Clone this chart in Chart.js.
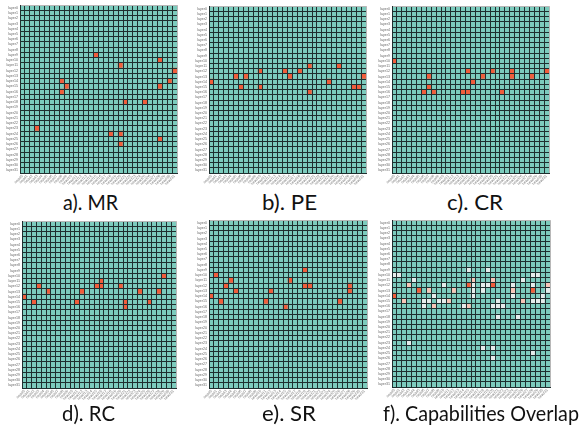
<!DOCTYPE html>
<html><head><meta charset="utf-8">
<script src="https://cdn.jsdelivr.net/npm/chart.js@4"></script>
<style>
html,body{margin:0;padding:0;background:#fff;width:581px;height:432px;overflow:hidden;position:relative;}
canvas{position:absolute;}
.title{position:absolute;font-family:Lato,'Open Sans',sans-serif;font-size:21px;line-height:21px;color:#111;white-space:nowrap;transform-origin:0 0;}
</style></head><body>
<canvas id="cA"></canvas><canvas id="cB"></canvas><canvas id="cC"></canvas>
<canvas id="cD"></canvas><canvas id="cE"></canvas><canvas id="cF"></canvas>
<div class="title" id="tA">a). MR</div>
<div class="title" id="tB">b). PE</div>
<div class="title" id="tC">c). CR</div>
<div class="title" id="tD">d). RC</div>
<div class="title" id="tE">e). SR</div>
<div class="title" id="tF">f). Capabilities Overlap</div>
<script>
// ---- categories / tick labels ----
const layerLabels = Array.from({length:32},(_,i)=>'layer'+i);
const headLabels = Array.from({length:32},(_,i)=>'head'+i);

// ---- series: highlighted cells [layer, head] ----
const mrCells = [[9,15],[10,28],[11,20],[12,31],[14,8],[14,30],[15,9],[15,28],[16,8],[18,21],[18,25],[23,3],[24,18],[24,20],[25,28],[26,20]];
const peCells = [[11,20],[11,26],[12,10],[12,15],[12,18],[13,5],[13,7],[13,16],[13,31],[14,0],[14,24],[15,6],[15,10],[15,29],[15,30],[16,20]];
const crCells = [[10,0],[12,15],[12,20],[12,24],[12,31],[13,7],[13,18],[13,24],[13,28],[14,16],[15,7],[16,6],[16,8],[16,14],[16,15],[16,22]];
const rcCells = [[10,29],[11,16],[12,3],[12,15],[12,16],[12,20],[13,5],[13,12],[13,24],[13,28],[14,0],[15,2],[15,11],[15,21],[15,26],[16,21]];
const srCells = [[9,19],[10,1],[11,4],[11,16],[12,3],[12,19],[12,20],[12,28],[13,5],[13,12],[13,28],[14,0],[15,2],[15,11],[15,26],[16,15]];
// overlap: [layer, head, count]
const overlapCells = [
 [9,15,1],[9,19,1],
 [10,0,1],[10,1,1],[10,28,1],[10,29,1],
 [11,4,1],[11,16,2],[11,20,2],[11,26,1],
 [12,3,2],[12,10,1],[12,15,3],[12,16,1],[12,18,1],[12,19,1],[12,20,3],[12,24,1],[12,28,1],[12,31,2],
 [13,5,3],[13,7,2],[13,12,2],[13,16,1],[13,18,1],[13,24,2],[13,28,3],[13,31,1],
 [14,0,3],[14,8,1],[14,16,1],[14,24,1],[14,30,1],
 [15,2,2],[15,6,1],[15,7,1],[15,9,1],[15,10,1],[15,11,2],[15,21,1],[15,26,2],[15,28,1],[15,29,1],[15,30,1],
 [16,6,1],[16,8,2],[16,14,1],[16,15,2],[16,20,1],[16,21,1],[16,22,1],
 [18,21,1],[18,25,1],[23,3,1],[24,18,1],[24,20,1],[25,28,1],[26,20,1]
];

const TEAL='#7ccbbd', LINE='#1f2f2f', FRAME='#b8b8b8';
const singlePalette=[TEAL,'#f15d3b'];
const overlapPalette=[TEAL,'#e6eceb','#f8c5b7','#f15d3b'];

function matrix(cells){
  const m=Array.from({length:layerLabels.length},()=>new Array(headLabels.length).fill(0));
  cells.forEach(c=>{m[c[0]][c[1]]=c.length>2?c[2]:1;});
  return m;
}

function makePanel(id,cells,palette,L,T,W,H){
  const cv=document.getElementById(id);
  const cw=W+23, ch=H+3+16;
  cv.width=cw; cv.height=ch;
  cv.style.left=(L-20)+'px'; cv.style.top=(T-3)+'px';
  cv.style.width=cw+'px'; cv.style.height=ch+'px';
  const m=matrix(cells);
  const n=layerLabels.length;
  const datasets=[];
  for(let k=0;k<n;k++){
    const r=n-1-k;
    datasets.push({
      label:layerLabels[r],
      data:headLabels.map(()=>1),
      backgroundColor:m[r].map(v=>palette[v]),
      borderWidth:0,barPercentage:1,categoryPercentage:1,
      xAxisID:'x',yAxisID:'yv'
    });
  }
  new Chart(cv,{
    type:'bar',
    data:{labels:headLabels,datasets},
    options:{
      responsive:false,animation:false,devicePixelRatio:1,
      layout:{padding:{left:0,top:3,right:3,bottom:0}},
      plugins:{legend:{display:false},tooltip:{enabled:false},title:{display:false}},
      scales:{
        x:{type:'category',stacked:true,offset:true,
          grid:{offset:true,drawTicks:false,lineWidth:1,z:1,color:c=>c.index===undefined?FRAME:LINE},
          border:{color:LINE,z:1},
          ticks:{autoSkip:false,minRotation:45,maxRotation:45,padding:1,color:'#7a7a7a',font:{size:3.8,family:'Liberation Sans'}},
          afterFit:s=>{s.height=16;}},
        yv:{type:'linear',position:'left',display:false,stacked:true,min:0,max:n},
        yl:{type:'category',position:'left',labels:layerLabels,offset:true,
          grid:{offset:true,drawTicks:false,lineWidth:1,z:1,color:c=>c.index===0?FRAME:LINE},
          border:{color:LINE,z:1},
          ticks:{autoSkip:false,padding:2,color:'#6a6a6a',font:{size:3.6,family:'Liberation Sans'}},
          afterFit:s=>{s.width=20;}}
      }
    }
  });
}

makePanel('cA',mrCells,singlePalette,20,4,157,169);
makePanel('cB',peCells,singlePalette,209,5,157,168);
makePanel('cC',crCells,singlePalette,392,5,157,168);
makePanel('cD',rcCells,singlePalette,22,220,154,168);
makePanel('cE',srCells,singlePalette,209,219,158,169);
makePanel('cF',overlapCells,overlapPalette,392,219,158,168);

// titles: [id, left, baseline, width]
const titlePos=[['tA',63,209.5,55],['tB',262,209.5,55],['tC',447,209.5,56],['tD',62,420.5,53],['tE',262,420.5,54],['tF',383,420.5,196]];
titlePos.forEach(([id,x,b,w])=>{
  const el=document.getElementById(id);
  el.style.left=x+'px'; el.style.top=(b-18.6)+'px';
  const k=w/el.getBoundingClientRect().width;
  el.style.transform='scaleX('+k+')';
});
</script>
</body></html>
